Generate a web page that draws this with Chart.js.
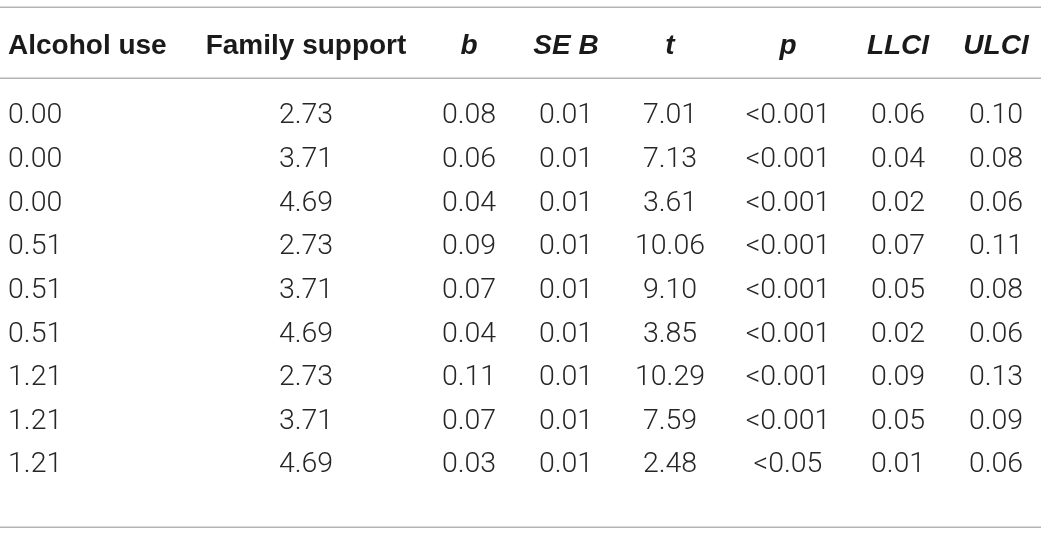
<!DOCTYPE html>
<html>
<head>
<meta charset="utf-8">
<script src="https://cdn.jsdelivr.net/npm/chart.js@4.4.0/dist/chart.umd.min.js"></script>
<style>
  html, body { margin: 0; padding: 0; background: #fff; }
  #wrap { width: 1041px; height: 534px; }
</style>
</head>
<body>
<div id="wrap"><canvas id="tableChart"></canvas></div>
<script>
// table values, one array per column
const headers = ["Alcohol use", "Family support", "b", "SE B", "t", "p", "LLCI", "ULCI"]
const alcoholUse = ["0.00", "0.00", "0.00", "0.51", "0.51", "0.51", "1.21", "1.21", "1.21"]
const familySupport = ["2.73", "3.71", "4.69", "2.73", "3.71", "4.69", "2.73", "3.71", "4.69"]
const bValues = ["0.08", "0.06", "0.04", "0.09", "0.07", "0.04", "0.11", "0.07", "0.03"]
const seB = ["0.01", "0.01", "0.01", "0.01", "0.01", "0.01", "0.01", "0.01", "0.01"]
const tValues = ["7.01", "7.13", "3.61", "10.06", "9.10", "3.85", "10.29", "7.59", "2.48"]
const pValues = ["<0.001", "<0.001", "<0.001", "<0.001", "<0.001", "<0.001", "<0.001", "<0.001", "<0.05"]
const llci = ["0.06", "0.04", "0.02", "0.07", "0.05", "0.02", "0.09", "0.05", "0.01"]
const ulci = ["0.10", "0.08", "0.06", "0.11", "0.08", "0.06", "0.13", "0.09", "0.06"]

const columns = [alcoholUse, familySupport, bValues, seB, tValues, pValues, llci, ulci]

// layout (not data): column anchors on the x scale, row slots on the y scale
const colX = [8, 306, 469, 566, 670, 788, 898, 996]
const colAlign = ["left", "center", "center", "center", "center", "center", "center", "center"]
const italicHeader = [false, false, true, true, true, true, true, true]
const headerRow = -0.6
const ruleRows = [-1.44, 0.19, 10.48]

// one point per cell; the plugin writes the cell's text at the point
const cells = []
headers.forEach((h, c) => cells.push({x: colX[c], y: headerRow, text: h, col: c, head: true}))
columns.forEach((col, c) => {
    col.forEach((v, r) => cells.push({x: colX[c], y: r + 1, text: v, col: c, head: false}))
})

const tablePlugin = {
    id: 'tableText',
    afterDatasetsDraw(chart) {
        const ctx = chart.ctx
        const area = chart.chartArea
        const yScale = chart.scales.y

        ctx.save()
        ctx.strokeStyle = '#b4b4b4'
        ctx.lineWidth = 1.5
        ruleRows.forEach(r => {
            const py = Math.round(yScale.getPixelForValue(r)) + 0.25
            ctx.beginPath()
            ctx.moveTo(area.left, py)
            ctx.lineTo(area.right, py)
            ctx.stroke()
        })

        const meta = chart.getDatasetMeta(0)
        meta.data.forEach((pt, i) => {
            const cell = cells[i]
            if (cell.head) {
                ctx.font = (italicHeader[cell.col] ? 'italic ' : '') + 'bold 28px "Liberation Sans", Arial, sans-serif'
                ctx.fillStyle = '#1a1a1a'
            } else {
                ctx.font = '300 28.5px Roboto, "Liberation Sans", sans-serif'
                ctx.fillStyle = '#262626'
            }
            ctx.textAlign = colAlign[cell.col]
            ctx.textBaseline = 'alphabetic'
            ctx.fillText(cell.text, pt.x, pt.y + 10)
        })
        ctx.restore()
    }
}

const chart = new Chart(document.getElementById('tableChart'), {
    type: 'scatter',
    data: {
        datasets: [{
            data: cells,
            pointRadius: 0,
            pointHoverRadius: 0
        }]
    },
    options: {
        responsive: true,
        maintainAspectRatio: false,
        animation: false,
        layout: {padding: 0},
        plugins: {legend: {display: false}, tooltip: {enabled: false}},
        events: [],
        scales: {
            x: {type: 'linear', min: 0, max: 1041, display: false},
            y: {type: 'linear', min: -1.6, max: 10.64, reverse: true, display: false}
        }
    },
    plugins: [tablePlugin]
})
</script>
</body>
</html>
